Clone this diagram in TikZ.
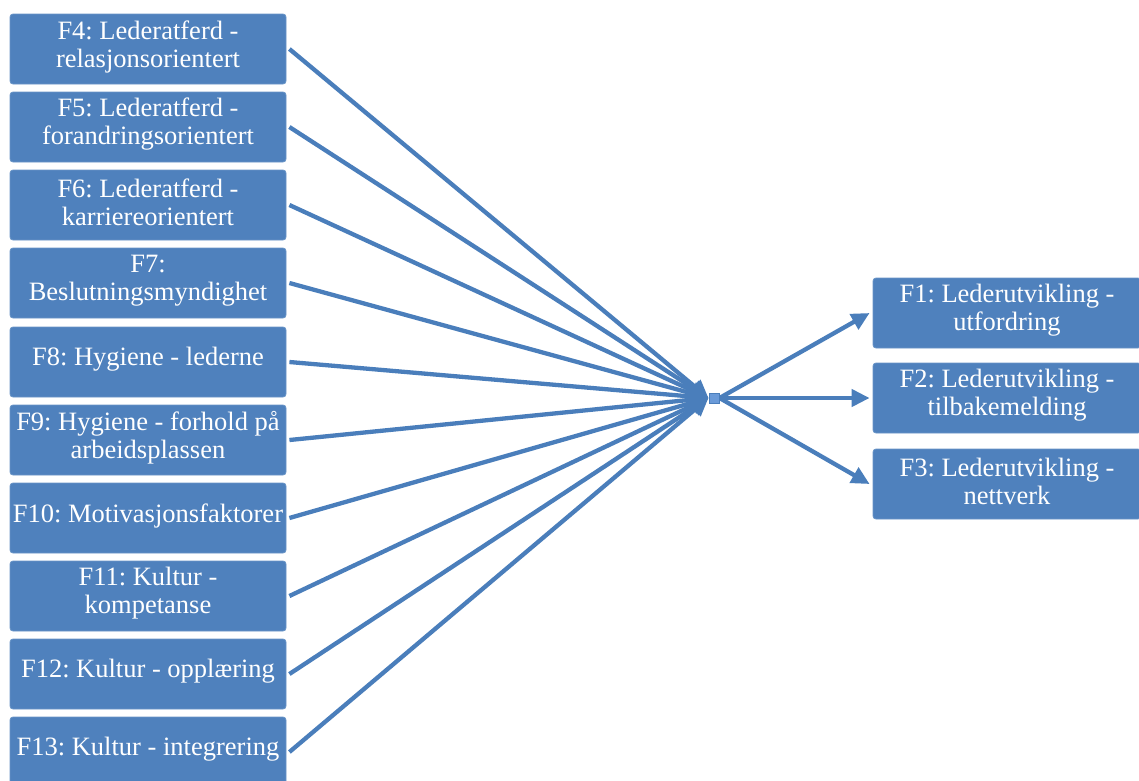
\documentclass[tikz,border=0pt]{standalone}
\usepackage{fontspec}
\setmainfont{Liberation Serif}
\usetikzlibrary{arrows.meta}
\definecolor{boxblue}{HTML}{4F81BD}
\definecolor{linkblue}{HTML}{4A7EBB}
\definecolor{hubfill}{HTML}{6A9AD8}
\newcommand\boxtext[2]{\raisebox{2.5pt}[\height][\depth]{\parbox{#1}{\centering #2}}}
\begin{document}
\frenchspacing
\begin{tikzpicture}[x=1pt,y=-1pt,
  fbox/.style={draw=boxblue!85!white, line width=0.8pt, fill=boxblue, rounded corners=3pt,
    text=white, font=\fontsize{26.5}{28}\selectfont\frenchspacing, inner sep=0pt},
  lbox/.style={fbox, minimum width=276pt, minimum height=70pt},
  rbox/.style={fbox, minimum width=268pt, minimum height=70pt},
  link/.style={draw=linkblue, line width=4.3pt, -{Triangle[length=18pt,width=17pt]}},
  hubstyle/.style={draw=linkblue, fill=hubfill, line width=1pt, minimum width=10pt, minimum height=10pt, inner sep=0pt}
]
\useasboundingbox (0,0) rectangle (1139,780);
\node[lbox] (f4) at (148,49) {\boxtext{276pt}{F4: Lederatferd -\\relasjonsorientert}};
\node[lbox] (f5) at (148,127) {\boxtext{276pt}{F5: Lederatferd -\\forandringsorientert}};
\node[lbox] (f6) at (148,205) {\boxtext{276pt}{F6: Lederatferd -\\karriereorientert}};
\node[lbox] (f7) at (148,283) {\boxtext{276pt}{F7:\\Beslutningsmyndighet}};
\node[lbox] (f8) at (148,362) {\boxtext{276pt}{F8: Hygiene - lederne}};
\node[lbox] (f9) at (148,440) {\boxtext{276pt}{F9: Hygiene - forhold på\\arbeidsplassen}};
\node[lbox] (f10) at (148,518) {\boxtext{276pt}{F10: Motivasjonsfaktorer}};
\node[lbox] (f11) at (148,596) {\boxtext{276pt}{F11: Kultur -\\kompetanse}};
\node[lbox] (f12) at (148,674) {\boxtext{276pt}{F12: Kultur - opplæring}};
\node[lbox] (f13) at (148,752) {\boxtext{276pt}{F13: Kultur - integrering}};

\node[rbox] (f1) at (1007,313) {\boxtext{262pt}{F1: Lederutvikling -\\utfordring}};
\node[rbox] (f2) at (1007,398) {\boxtext{262pt}{F2: Lederutvikling -\\tilbakemelding}};
\node[rbox] (f3) at (1007,484) {\boxtext{262pt}{F3: Lederutvikling -\\nettverk}};

\node[hubstyle] (hub) at (714,398) {};

\foreach \n in {f4,f5,f6,f7,f8,f9,f10,f11,f12,f13}{
  \draw[link] ([xshift=3pt]\n.east) -- (hub.west);
}
\foreach \n in {f1,f2,f3}{
  \draw[link] (hub.east) -- ([xshift=-3pt]\n.west);
}
\node[hubstyle] at (hub) {};
\end{tikzpicture}
\end{document}
